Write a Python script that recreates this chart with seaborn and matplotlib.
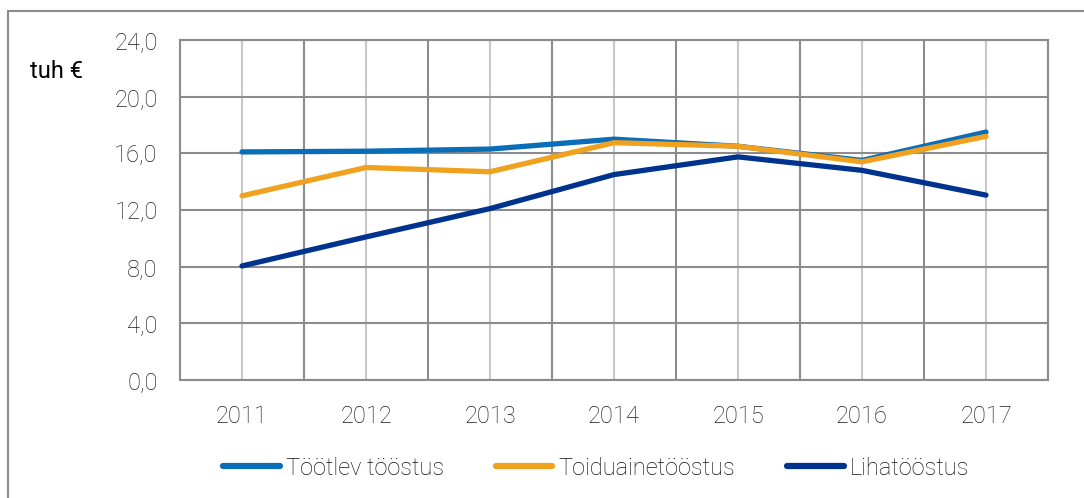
import numpy as np
import pandas as pd
import matplotlib.pyplot as plt
import seaborn as sns
from matplotlib.patches import Rectangle
from matplotlib.ticker import FixedLocator, NullFormatter

# andmed (tuh €)
years = ['2011', '2012', '2013', '2014', '2015', '2016', '2017']
tootlev = [16.1, 16.15, 16.3, 17.0, 16.5, 15.5, 17.5]
toiduaine = [13.0, 15.0, 14.7, 16.75, 16.5, 15.4, 17.2]
liha = [8.05, 10.1, 12.1, 14.5, 15.75, 14.8, 13.05]
series_names = ['Töötlev tööstus', 'Toiduainetööstus', 'Lihatööstus']
colors = ['#0A6DB8', '#F0A11E', '#00338D']

df = pd.DataFrame({
    'x': list(range(len(years))) * 3,
    'value': tootlev + toiduaine + liha,
    'series': np.repeat(series_names, len(years)),
})

sns.set_style('white')
plt.rcParams['font.family'] = ['Roboto', 'DejaVu Sans']
plt.rcParams['font.weight'] = 'light'

grid_dark = '#8C8C8C'
grid_light = '#C8C8C8'
text_col = '#1E1E1E'

fig = plt.figure(figsize=(10.84, 4.98), dpi=100)
ax = fig.add_axes([180 / 1084, 1 - 380 / 498, (1048 - 180) / 1084, 340 / 498])

sns.lineplot(data=df, x='x', y='value', hue='series', hue_order=series_names,
             palette=colors, linewidth=3.8, ax=ax, legend=False,
             solid_capstyle='round', zorder=5)

ax.set_xlim(-0.5, len(years) - 0.5)
ax.set_ylim(0, 24)
ax.set_yticks(np.arange(0, 24.1, 4))
ax.set_yticklabels([f'{v:.1f}'.replace('.', ',') for v in np.arange(0, 24.1, 4)])
ax.set_xticks(range(len(years)))
ax.set_xticklabels(years)
ax.xaxis.set_minor_locator(FixedLocator(np.arange(-0.5, len(years), 1)))
ax.xaxis.set_minor_formatter(NullFormatter())

ax.grid(axis='y', which='major', color=grid_dark, linewidth=1.5)
ax.grid(axis='x', which='major', color=grid_light, linewidth=1.5)
ax.grid(axis='x', which='minor', color=grid_dark, linewidth=1.5)
ax.set_axisbelow(True)
for s in ax.spines.values():
    s.set_color(grid_dark)
    s.set_linewidth(1.5)

ax.tick_params(axis='y', which='major', length=7, width=1.5, color=grid_dark,
               labelsize=17, labelcolor=text_col, pad=9)
ax.tick_params(axis='x', which='major', length=0, labelsize=17,
               labelcolor=text_col, pad=18)
ax.tick_params(axis='x', which='minor', length=7, width=1.5, color=grid_dark)
ax.set_xlabel('')
ax.set_ylabel('')

fig.text(30 / 1084, 1 - 72 / 498, 'tuh €', fontsize=17, color='#000000',
         fontweight='normal', va='center', ha='left')

handles = [plt.Line2D([], [], color=c, linewidth=4.5, solid_capstyle='round')
           for c in colors]
fig.legend(handles, series_names, loc='center', ncol=3,
           bbox_to_anchor=(596 / 1084, 1 - 468 / 498), frameon=False,
           fontsize=17, handlelength=2.4, handletextpad=0.25, columnspacing=2.2,
           labelcolor='#111111')

# raam ümber joonise
fig.patches.append(Rectangle((8 / 1084, -0.1), 1.2, 1 - 11 / 498 + 0.1,
                             transform=fig.transFigure, fill=False,
                             edgecolor=grid_dark, linewidth=1.5))

fig.savefig('out.png', dpi=100)
